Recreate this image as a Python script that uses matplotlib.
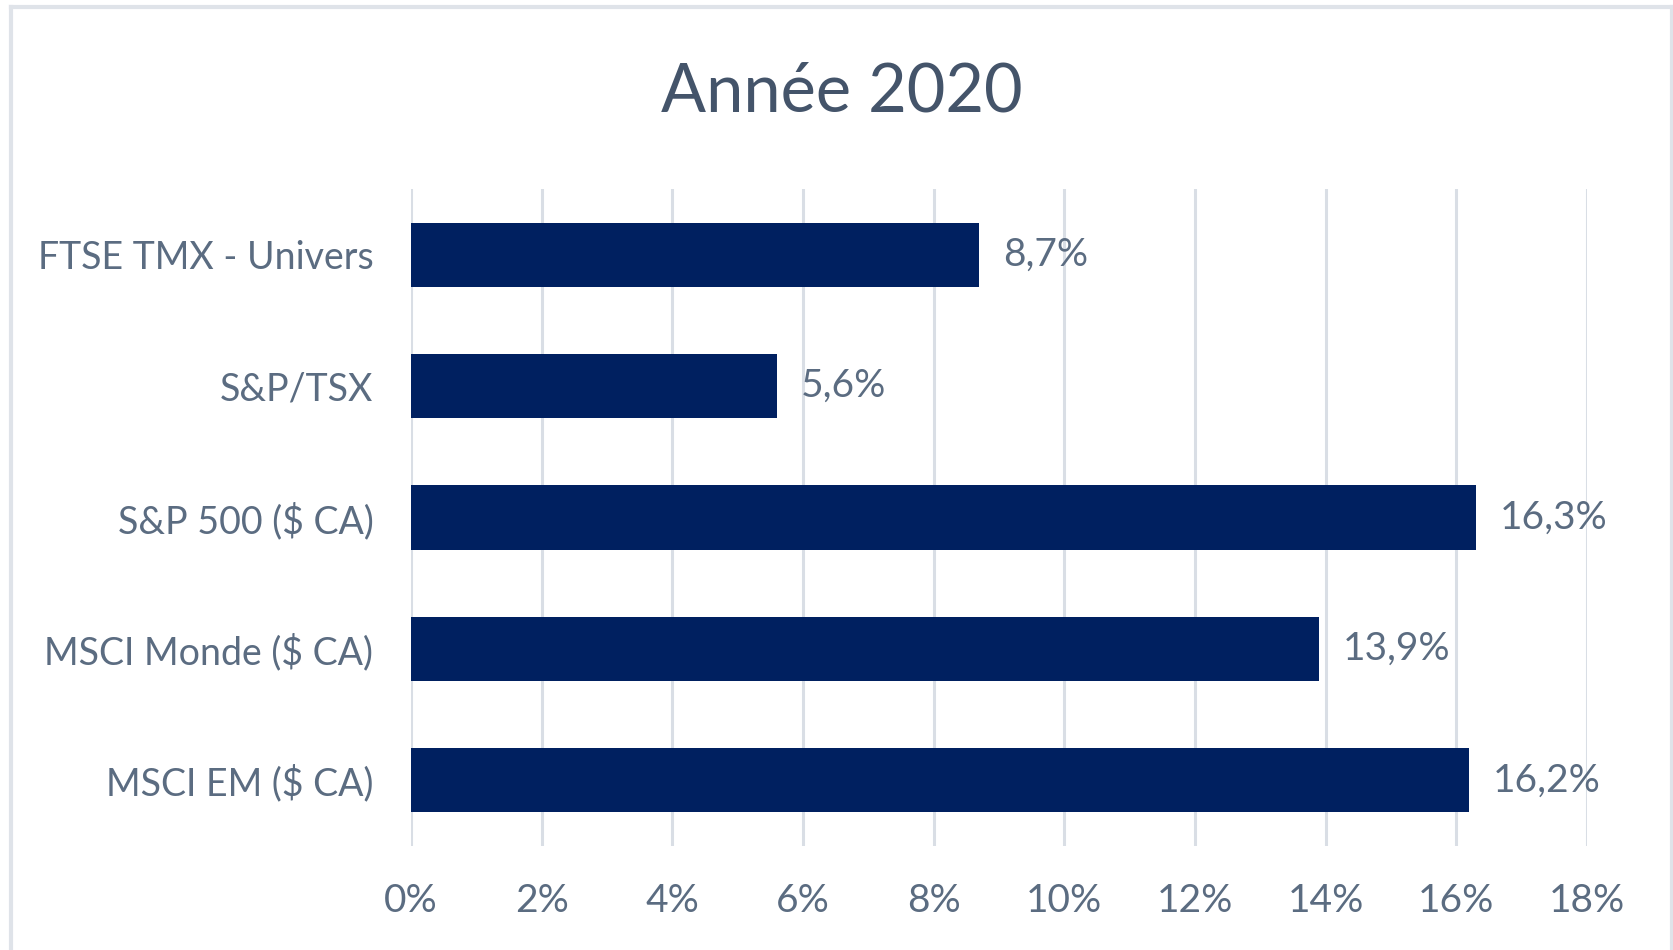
import matplotlib
matplotlib.use("Agg")
import matplotlib.pyplot as plt
from matplotlib.lines import Line2D

categories = ["FTSE TMX - Univers", "S&P/TSX", "S&P 500 ($ CA)", "MSCI Monde ($ CA)", "MSCI EM ($ CA)"]
values = [8.7, 5.6, 16.3, 13.9, 16.2]
xticks = [0, 2, 4, 6, 8, 10, 12, 14, 16, 18]
xtick_labels = [f"{v}%" for v in xticks]
title = "Année 2020"

W, H = 1674, 950
fig = plt.figure(figsize=(W / 100, H / 100), dpi=100)
fig.patch.set_facecolor("white")

FONT = "Lato"
TEXT = "#5b6c81"
TITLE = "#44546a"
BAR = "#002060"
GRID = "#d9dee5"
BORDER = "#dfe3e9"

ax = fig.add_axes([411 / W, 1 - 846 / H, (1587 - 411) / W, (846 - 189) / H])
ypos = list(range(len(categories)))
ax.barh(ypos, values, height=0.49, color=BAR, zorder=3)
ax.set_ylim(len(categories) - 0.5, -0.5)
ax.set_xlim(0, 18)
ax.set_xticks(xticks)
ax.set_xticklabels(xtick_labels, fontsize=28, color=TEXT, family=FONT)
ax.set_yticks(ypos)
ax.set_yticklabels(categories, fontsize=27, color=TEXT, family=FONT)
ax.tick_params(axis="both", length=0)
ax.tick_params(axis="y", pad=27)
ax.tick_params(axis="x", pad=27)
ax.grid(axis="x", color=GRID, linewidth=2.2, zorder=0)
for s in ax.spines.values():
    s.set_visible(False)

for y, v in zip(ypos, values):
    ax.annotate(f"{v:.1f}%".replace(".", ","), xy=(v, y), xytext=(17, 0),
                textcoords="offset points", va="center", ha="left",
                fontsize=28, color=TEXT, family=FONT)

fig.text(842 / W, 1 - 93 / H, title, ha="center", va="center",
         fontsize=48, color=TITLE, family=FONT)

# outer frame
x0, x1, y0 = 11.5 / W, 1672 / W, 1 - 7 / H
for xs, ys in [([x0, x1], [y0, y0]), ([x0, x0], [y0, -0.1]), ([x1, x1], [y0, -0.1])]:
    fig.add_artist(Line2D(xs, ys, transform=fig.transFigure, color=BORDER, linewidth=3))

fig.savefig("out.png", dpi=100, facecolor="white")
